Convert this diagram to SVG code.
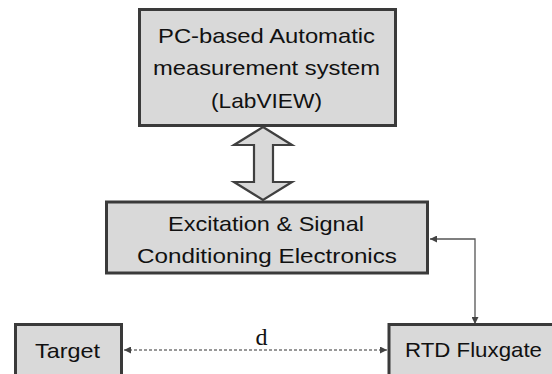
<svg xmlns="http://www.w3.org/2000/svg" width="552" height="374" viewBox="0 0 552 374">
<style>
.box{fill:#d9d9d9;stroke:#3a3a3a;stroke-width:3}
.lbl{font-family:"Liberation Sans",Arial,sans-serif;font-size:21px;fill:#111;text-anchor:middle}
.conn{fill:none;stroke:#555;stroke-width:1.3}
.dash{fill:none;stroke:#777;stroke-width:1.3;stroke-dasharray:3 2}
</style>
<defs>
<marker id="ah" viewBox="0 0 10 10" refX="10" refY="5" markerWidth="7" markerHeight="7" markerUnits="userSpaceOnUse" orient="auto-start-reverse">
<path d="M0,0 L10,5 L0,10 z" fill="#444"/>
</marker>
</defs>
<rect width="552" height="374" fill="#fff"/>
<g id="connectors">
<polygon points="263,127 292,145 273,145 273,182 292,182 263,200 234,182 254,182 254,145 234,145" fill="#d9d9d9" stroke="#404040" stroke-width="2.2" stroke-linejoin="miter"/>
<path class="conn" d="M430,239 H475 V324" marker-start="url(#ah)" marker-end="url(#ah)"/>
<path class="dash" d="M124,350 H387" marker-start="url(#ah)" marker-end="url(#ah)"/>
<text x="261.5" y="345" font-family="'Liberation Serif','Times New Roman',serif" font-size="24" fill="#111" text-anchor="middle">d</text>
</g>
<g id="pc">
<rect class="box" x="139.5" y="9.5" width="256" height="116"/>
<text class="lbl" x="266.5" y="43" textLength="217" lengthAdjust="spacingAndGlyphs">PC-based Automatic</text>
<text class="lbl" x="266.5" y="75" textLength="227" lengthAdjust="spacingAndGlyphs">measurement system</text>
<text class="lbl" x="266.5" y="108" textLength="111" lengthAdjust="spacingAndGlyphs">(LabVIEW)</text>
</g>
<g id="electronics">
<rect class="box" x="106.5" y="202" width="321" height="71"/>
<text class="lbl" x="266" y="231" textLength="196" lengthAdjust="spacingAndGlyphs">Excitation &amp; Signal</text>
<text class="lbl" x="267" y="263" textLength="260" lengthAdjust="spacingAndGlyphs">Conditioning Electronics</text>
</g>
<g id="target">
<rect class="box" x="15.5" y="324.5" width="106" height="60"/>
<text class="lbl" x="67.5" y="358" textLength="65" lengthAdjust="spacingAndGlyphs">Target</text>
</g>
<g id="rtd">
<rect class="box" x="389" y="324.5" width="170" height="60"/>
<text class="lbl" x="473.5" y="357" textLength="137" lengthAdjust="spacingAndGlyphs">RTD Fluxgate</text>
</g>
</svg>
